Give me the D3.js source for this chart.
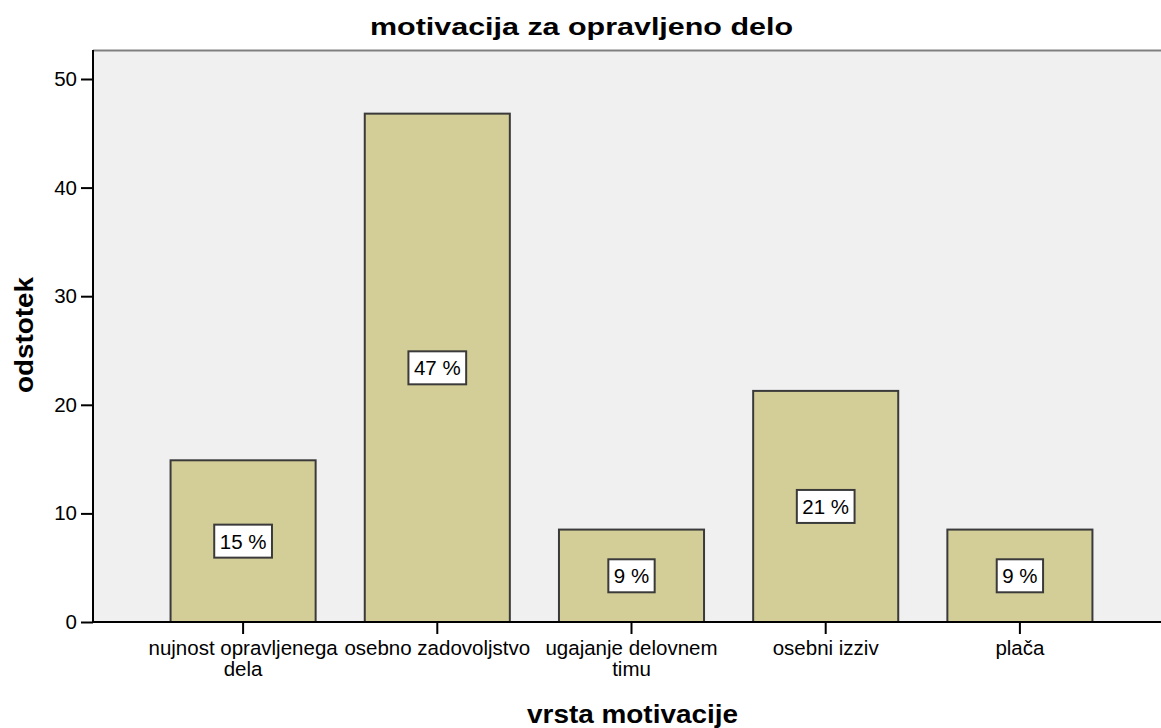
<!DOCTYPE html>
<html>
<head>
<meta charset="utf-8">
<script src="https://cdn.jsdelivr.net/npm/d3@7"></script>
<style>
body { margin: 0; background: #fff; }
text { font-family: "Liberation Sans", Arial, sans-serif; fill: #000; }
</style>
</head>
<body>
<div id="chart"></div>
<script>
// data
var categories = [["nujnost opravljenega", "dela"], ["osebno zadovoljstvo"], ["ugajanje delovnem", "timu"], ["osebni izziv"], ["plača"]];
var percents = [14.89, 46.81, 8.51, 21.28, 8.51];
var barLabels = ["15 %", "47 %", "9 %", "21 %", "9 %"];
var yTicks = [0, 10, 20, 30, 40, 50];

var width = 1161, height = 728;
var plot = {left: 93, top: 50, right: 1161, bottom: 622};

var svg = d3.select("#chart").append("svg")
  .attr("width", width)
  .attr("height", height);

var x = d3.scaleBand()
  .domain(d3.range(categories.length))
  .range([146, 1117])
  .paddingInner(0.253)
  .paddingOuter(0.1265);

var y = d3.scaleLinear()
  .domain([0, 52.67])
  .range([plot.bottom, plot.top]);

// plot background
svg.append("rect")
  .attr("x", plot.left).attr("y", plot.top)
  .attr("width", plot.right - plot.left)
  .attr("height", plot.bottom - plot.top)
  .style("fill", "#f0f0f0");

svg.append("line")
  .attr("x1", plot.left).attr("x2", plot.right)
  .attr("y1", plot.top + 0.5).attr("y2", plot.top + 0.5)
  .style("stroke", "#808080").style("stroke-width", 2);

// bars
svg.append("g").selectAll("rect")
  .data(percents)
  .enter().append("rect")
  .attr("x", function(d, i) { return x(i); })
  .attr("y", function(d) { return y(d); })
  .attr("width", x.bandwidth())
  .attr("height", function(d) { return y(0) - y(d); })
  .style("fill", "#d3ce97")
  .style("stroke", "#3a3a3a")
  .style("stroke-width", 2);

// value labels
var lab = svg.append("g").selectAll("g")
  .data(percents)
  .enter().append("g")
  .attr("transform", function(d, i) {
    return "translate(" + (x(i) + x.bandwidth() / 2) + "," + y(d / 2) + ")";
  });

lab.append("text")
  .attr("text-anchor", "middle")
  .attr("dy", "0.36em")
  .style("font-size", "20.5px")
  .text(function(d, i) { return barLabels[i]; })
  .each(function() {
    var bb = this.getBBox();
    d3.select(this.parentNode).insert("rect", "text")
      .attr("x", bb.x - 5.5).attr("y", -16.5)
      .attr("width", bb.width + 11).attr("height", 33)
      .style("fill", "#fff")
      .style("stroke", "#3a3a3a")
      .style("stroke-width", 2);
  });

// y axis
var yAxis = svg.append("g")
  .attr("transform", "translate(" + plot.left + ",0)")
  .call(d3.axisLeft(y).tickValues(yTicks).tickSize(12).tickPadding(4));
yAxis.select(".domain").remove();
yAxis.selectAll(".tick line").style("stroke", "#000").style("stroke-width", 2);
yAxis.selectAll(".tick text").style("font-size", "20.5px")
  .style("font-family", "Liberation Sans, Arial, sans-serif").style("fill", "#000");

svg.append("line")
  .attr("x1", plot.left).attr("x2", plot.left)
  .attr("y1", plot.top).attr("y2", plot.bottom)
  .style("stroke", "#000").style("stroke-width", 2);

// x axis
var xAxis = svg.append("g")
  .attr("transform", "translate(0," + plot.bottom + ")")
  .call(d3.axisBottom(x).tickSize(12).tickFormat(""));
xAxis.select(".domain").remove();
xAxis.selectAll(".tick line").style("stroke", "#000").style("stroke-width", 2);

svg.append("line")
  .attr("x1", plot.left).attr("x2", plot.right)
  .attr("y1", plot.bottom).attr("y2", plot.bottom)
  .style("stroke", "#000").style("stroke-width", 2);

// category labels, one text per line
var catLines = [];
categories.forEach(function(c, i) {
  c.forEach(function(t, j) { catLines.push({i: i, j: j, t: t}); });
});

svg.append("g").selectAll("text")
  .data(catLines)
  .enter().append("text")
  .attr("text-anchor", "middle")
  .attr("x", function(d) { return x(d.i) + x.bandwidth() / 2; })
  .attr("y", function(d) { return 655 + d.j * 21; })
  .style("font-size", "20.5px")
  .text(function(d) { return d.t; });

// titles
svg.append("text")
  .attr("x", 581.5).attr("y", 35)
  .attr("text-anchor", "middle")
  .attr("textLength", 423).attr("lengthAdjust", "spacingAndGlyphs")
  .style("font-size", "24px").style("font-weight", "bold")
  .text("motivacija za opravljeno delo");

svg.append("text")
  .attr("x", 632.5).attr("y", 723)
  .attr("text-anchor", "middle")
  .attr("textLength", 211).attr("lengthAdjust", "spacingAndGlyphs")
  .style("font-size", "25px").style("font-weight", "bold")
  .text("vrsta motivacije");

svg.append("text")
  .attr("transform", "translate(33,335) rotate(-90)")
  .attr("text-anchor", "middle")
  .attr("textLength", 116).attr("lengthAdjust", "spacingAndGlyphs")
  .style("font-size", "25px").style("font-weight", "bold")
  .text("odstotek");
</script>
</body>
</html>
